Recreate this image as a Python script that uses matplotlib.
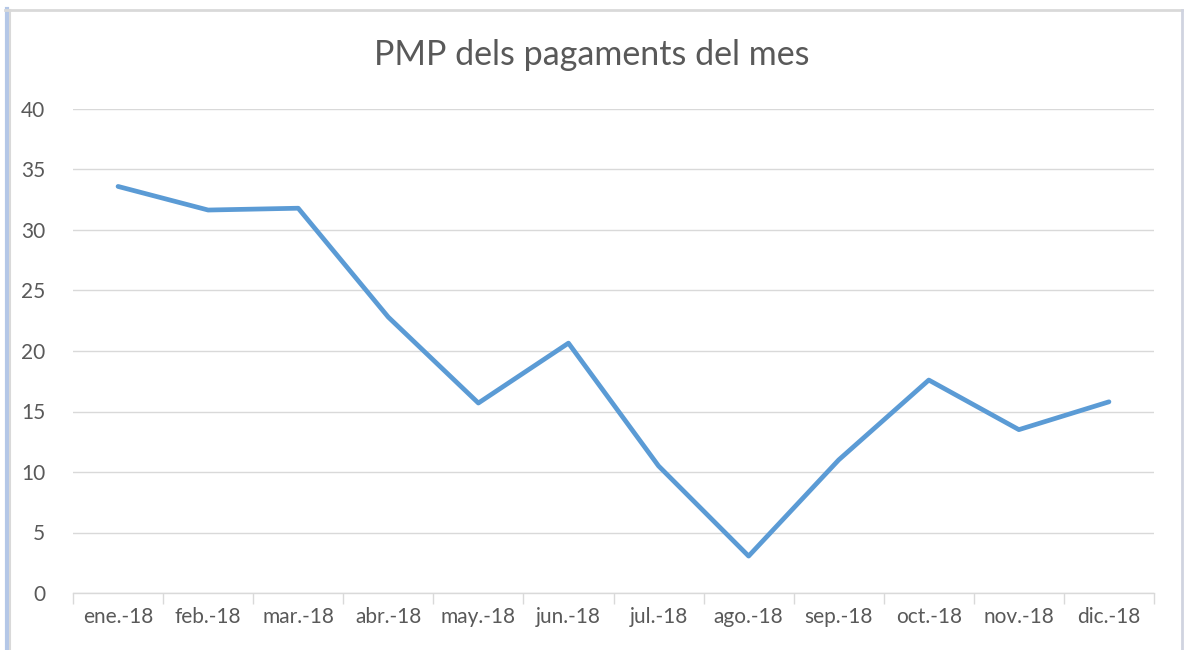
import numpy as np
import matplotlib.pyplot as plt
from matplotlib.lines import Line2D

# PMP (average payment period) by month, 2018
months = ['ene.-18', 'feb.-18', 'mar.-18', 'abr.-18', 'may.-18', 'jun.-18',
          'jul.-18', 'ago.-18', 'sep.-18', 'oct.-18', 'nov.-18', 'dic.-18']
pmp_values = [33.6, 31.65, 31.8, 22.8, 15.7, 20.65,
              10.5, 3.05, 11.0, 17.6, 13.5, 15.8]
y_ticks = [0, 5, 10, 15, 20, 25, 30, 35, 40]

plt.rcParams['font.family'] = ['Lato', 'DejaVu Sans']
text_color = '#595959'
grid_color = '#d9d9d9'

fig = plt.figure(figsize=(11.84, 6.5), dpi=100)
ax = fig.add_axes([73 / 1184, 1 - 593 / 650, (1154 - 73) / 1184, (593 - 109) / 650])

x = np.arange(len(months))
ax.plot(x, pmp_values, color='#5b9bd5', linewidth=3.4, solid_joinstyle='round',
        solid_capstyle='round')

ax.set_xlim(-0.5, len(months) - 0.5)
ax.set_ylim(0, 40)
ax.set_yticks(y_ticks)
ax.set_xticks(x)
ax.set_xticklabels(months)
ax.set_xticks(np.arange(-0.5, len(months)), minor=True)

ax.grid(axis='y', color=grid_color, linewidth=1)
ax.set_axisbelow(True)
for side in ['top', 'right', 'left']:
    ax.spines[side].set_visible(False)
ax.spines['bottom'].set_color(grid_color)
ax.spines['bottom'].set_linewidth(1)

ax.tick_params(axis='x', which='major', length=0, pad=10, labelsize=15, labelcolor=text_color)
ax.tick_params(axis='x', which='minor', length=8, color=grid_color, width=1)
ax.tick_params(axis='y', length=0, pad=20, labelsize=15, labelcolor=text_color)

fig.text(0.5, 1 - 55 / 650, 'PMP dels pagaments del mes', ha='center', va='center',
         fontsize=24.5, color=text_color)

# chart frame as in the spreadsheet screenshot
fig.add_artist(Line2D([6.5 / 1184, 6.5 / 1184], [0, 1 - 9 / 650], color='#b4c7e7',
                      linewidth=3, transform=fig.transFigure))
fig.add_artist(Line2D([10 / 1184, 10 / 1184], [0, 1 - 10 / 650], color='#d9d9d9',
                      linewidth=1.5, transform=fig.transFigure))
fig.add_artist(Line2D([5 / 1184, 1182 / 1184], [1 - 10 / 650, 1 - 10 / 650], color='#d9d9d9',
                      linewidth=2, transform=fig.transFigure))
fig.add_artist(Line2D([1182 / 1184, 1182 / 1184], [0, 1 - 10 / 650], color='#d0d4e0',
                      linewidth=2, transform=fig.transFigure))

fig.savefig('out.png', dpi=100)
